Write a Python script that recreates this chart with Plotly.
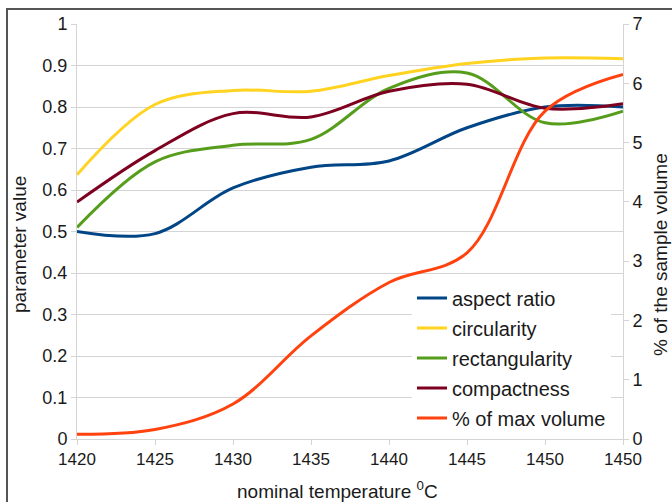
import plotly.graph_objects as go

# ---- data ----
x_labels = ["1420", "1425", "1430", "1435", "1440", "1445", "1450", "1450"]
x_idx = list(range(len(x_labels)))

aspect_ratio = [0.50, 0.495, 0.605, 0.655, 0.67, 0.75, 0.80, 0.80]
circularity = [0.637, 0.806, 0.84, 0.838, 0.876, 0.905, 0.918, 0.916]
rectangularity = [0.51, 0.668, 0.708, 0.722, 0.845, 0.882, 0.762, 0.79]
compactness = [0.571, 0.695, 0.784, 0.776, 0.838, 0.855, 0.797, 0.808]
pct_max_volume = [0.08, 0.16, 0.59, 1.74, 2.64, 3.14, 5.53, 6.15]

left_ticks = [0, 0.1, 0.2, 0.3, 0.4, 0.5, 0.6, 0.7, 0.8, 0.9, 1]
left_tick_text = ["0", "0.1", "0.2", "0.3", "0.4", "0.5", "0.6", "0.7", "0.8", "0.9", "1"]
right_ticks = [0, 1, 2, 3, 4, 5, 6, 7]

series = [
    ("aspect ratio", aspect_ratio, "#004586", "y"),
    ("circularity", circularity, "#ffd320", "y"),
    ("rectangularity", rectangularity, "#579d1c", "y"),
    ("compactness", compactness, "#7e0021", "y"),
    ("% of max volume", pct_max_volume, "#ff420e", "y2"),
]

FONT = "Liberation Sans, Arial, sans-serif"
TXT = "#1a1a1a"

# plot area in pixels: left 77, right 623, top 24, bottom 439
L, R, T, B = 77, 623, 24, 439
W, H = R - L, B - T


def px(xp):
    return (xp - L) / W


def py(yp):
    return (B - yp) / H


fig = go.Figure()
for i, (name, vals, color, ax) in enumerate(series):
    fig.add_trace(go.Scatter(
        x=x_idx, y=vals, name=name, yaxis=ax, mode="lines",
        line=dict(color=color, width=3, shape="spline", smoothing=1.0),
        legendgroup=f"g{i}", cliponaxis=False,
    ))

grid = "#d4d4d4"
fig.update_layout(
    width=672, height=502,
    margin=dict(l=L, r=672 - R, t=T, b=502 - B, autoexpand=False),
    paper_bgcolor="white", plot_bgcolor="white",
    font=dict(family=FONT, size=18, color=TXT),
    showlegend=True,
    legend=dict(
        x=px(412), y=0.387, xanchor="left", yanchor="top",
        bgcolor="white", borderwidth=0,
        font=dict(family=FONT, size=20, color=TXT),
        tracegroupgap=1, traceorder="grouped",
    ),
    xaxis=dict(
        range=[0, 7], tickmode="array", tickvals=x_idx, ticktext=x_labels,
        showgrid=False, zeroline=False, showline=True, linecolor=grid, linewidth=1,
        ticks="outside", ticklen=5, tickcolor=grid, automargin=False,
        tickfont=dict(size=17),
    ),
    yaxis=dict(
        range=[0, 1], tickmode="array", tickvals=left_ticks, ticktext=left_tick_text,
        showgrid=True, gridcolor=grid, gridwidth=1, zeroline=False,
        showline=True, linecolor=grid, linewidth=1, automargin=False,
        ticks="outside", ticklen=5, tickcolor=grid, tickfont=dict(size=18),
    ),
    yaxis2=dict(
        range=[0, 7], tickmode="array", tickvals=right_ticks, overlaying="y", side="right",
        showgrid=False, zeroline=False, showline=True, linecolor=grid, linewidth=1,
        ticks="outside", ticklen=5, tickcolor=grid, automargin=False, tickfont=dict(size=18),
    ),
    annotations=[
        dict(text="nominal temperature <sup>0</sup>C", xref="paper", yref="paper",
             x=px(337), y=py(490), showarrow=False, xanchor="center", yanchor="middle",
             font=dict(size=19, color=TXT)),
        dict(text="parameter value", xref="paper", yref="paper", textangle=-90,
             x=px(19), y=py(245), showarrow=False, xanchor="center", yanchor="middle",
             font=dict(size=19, color=TXT)),
        dict(text="% of the sample volume", xref="paper", yref="paper", textangle=-90,
             x=px(660), y=py(255), showarrow=False, xanchor="center", yanchor="middle",
             font=dict(size=19, color=TXT)),
    ],
    shapes=[
        dict(type="rect", xref="paper", yref="paper",
             x0=px(7), x1=px(690), y0=py(520), y1=py(9),
             line=dict(color="#555555", width=2), fillcolor="rgba(0,0,0,0)", layer="below"),
    ],
)

fig.write_html("out.html", config={"displayModeBar": False},
               post_script="document.body.style.margin='0';")
